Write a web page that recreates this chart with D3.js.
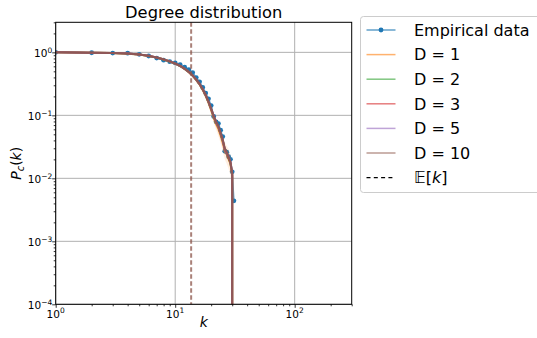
<!DOCTYPE html>
<html>
<head>
<meta charset="utf-8">
<script src="https://cdn.jsdelivr.net/npm/d3@7"></script>
<style>
  html, body { margin: 0; padding: 0; background: #ffffff; }
  svg { display: block; font-family: "DejaVu Sans", sans-serif; }
</style>
</head>
<body>
<svg id="chart" width="537" height="338"></svg>
<script>
// Degree values k
const kValues = [1, 2, 3, 4, 5, 6, 7, 8, 9, 10, 11, 12, 13, 14, 15, 16, 17, 18, 19, 20,
                 21, 22, 23, 24, 25, 26, 27, 28, 29, 30, 31];

// Empirical complementary cumulative degree distribution P_c(k)
const empirical = [1.0, 0.986, 0.975, 0.970, 0.932, 0.875, 0.81, 0.752, 0.71, 0.68,
                   0.64, 0.58, 0.53, 0.478, 0.397, 0.34, 0.277, 0.226, 0.183, 0.143,
                   0.096, 0.079, 0.074, 0.058, 0.046, 0.027, 0.026, 0.022, 0.020, 0.0127, 0.0044];

// Model predictions for each embedding dimension D (zero beyond the largest degree)
const modelD1  = [1.0, 0.99, 0.975, 0.954, 0.923, 0.877, 0.825, 0.770, 0.715, 0.660,
                  0.604, 0.544, 0.484, 0.423, 0.363, 0.308, 0.253, 0.203, 0.158, 0.120,
                  0.090, 0.072, 0.060, 0.047, 0.036, 0.027, 0.024, 0.020, 0.017, 0.011, 0];
const modelD2  = [1.0, 0.99, 0.975, 0.954, 0.924, 0.878, 0.826, 0.771, 0.716, 0.661,
                  0.605, 0.546, 0.486, 0.426, 0.366, 0.311, 0.256, 0.206, 0.161, 0.124,
                  0.094, 0.076, 0.064, 0.050, 0.039, 0.029, 0.025, 0.021, 0.017, 0.012, 0];
const modelD3  = [1.0, 0.99, 0.975, 0.955, 0.925, 0.879, 0.828, 0.773, 0.718, 0.663,
                  0.608, 0.548, 0.488, 0.428, 0.368, 0.313, 0.258, 0.208, 0.163, 0.126,
                  0.096, 0.077, 0.065, 0.051, 0.040, 0.029, 0.025, 0.021, 0.018, 0.012, 0];
const modelD5  = [1.0, 0.99, 0.975, 0.955, 0.925, 0.880, 0.829, 0.774, 0.719, 0.664,
                  0.609, 0.549, 0.489, 0.429, 0.369, 0.314, 0.259, 0.209, 0.164, 0.127,
                  0.097, 0.078, 0.066, 0.052, 0.040, 0.029, 0.025, 0.022, 0.018, 0.012, 0];
const modelD10 = [1.0, 0.99, 0.975, 0.955, 0.925, 0.880, 0.830, 0.775, 0.720, 0.665,
                  0.610, 0.550, 0.490, 0.430, 0.370, 0.315, 0.260, 0.210, 0.165, 0.128,
                  0.098, 0.080, 0.068, 0.053, 0.041, 0.030, 0.026, 0.022, 0.018, 0.012, 0];

// Spread of the D = 1 model over repeated runs
const bandD1Low  = [1.0, 0.99, 0.973, 0.950, 0.917, 0.869, 0.815, 0.758, 0.701, 0.644,
                    0.587, 0.526, 0.464, 0.402, 0.342, 0.286, 0.232, 0.183, 0.140, 0.104,
                    0.076, 0.059, 0.047, 0.036, 0.027, 0.020, 0.017, 0.014, 0.011, 0.008, 0];
const bandD1High = [1.0, 0.99, 0.976, 0.956, 0.926, 0.880, 0.828, 0.774, 0.720, 0.666,
                    0.612, 0.555, 0.496, 0.438, 0.380, 0.326, 0.272, 0.222, 0.176, 0.136,
                    0.104, 0.085, 0.071, 0.058, 0.047, 0.037, 0.033, 0.029, 0.024, 0.017, 0];

const seriesLabels = ["D = 1", "D = 2", "D = 3", "D = 5", "D = 10"];
const seriesColors = ["#ff7f0e", "#2ca02c", "#d62728", "#9467bd", "#8c564b"];
const seriesOpacity = [0.7, 0.7, 0.7, 0.7, 0.85];
const seriesValues = [modelD1, modelD2, modelD3, modelD5, modelD10];

// Mean degree E[k]
const meanDegree = 13.6;

// Axis ticks
const xMajorTicks = [1, 10, 100];
const yMajorTicks = [1e-4, 1e-3, 1e-2, 1e-1, 1];
const xExponents = ["0", "1", "2"];
const yExponents = ["\u22124", "\u22123", "\u22122", "\u22121", "0"];

const svg = d3.select("#chart");
const pL = 55.7, pR = 351.7, pT = 22.3, pB = 304.3;

const x = d3.scaleLog().domain([1, 300]).range([pL, pR]);
const y = d3.scaleLog().domain([1e-4, 3]).range([pB, pT]);

// Minor tick positions (2..9 times each decade) inside the domains
const minorX = [];
[1, 10, 100].forEach(b => { for (let m = 2; m <= 9; m++) { const v = b * m; if (v <= 300) minorX.push(v); } });
const minorY = [];
[1e-4, 1e-3, 1e-2, 1e-1, 1].forEach(b => { for (let m = 2; m <= 9; m++) { const v = b * m; if (v <= 3) minorY.push(v); } });

// Grid
const grid = svg.append("g");
xMajorTicks.forEach(t => {
  grid.append("line").attr("x1", x(t)).attr("x2", x(t)).attr("y1", pT).attr("y2", pB)
    .attr("stroke", "#b0b0b0").attr("stroke-width", 1);
});
yMajorTicks.forEach(t => {
  grid.append("line").attr("x1", pL).attr("x2", pR).attr("y1", y(t)).attr("y2", y(t))
    .attr("stroke", "#b0b0b0").attr("stroke-width", 1);
});

// Clip to plotting area
svg.append("defs").append("clipPath").attr("id", "plotClip")
  .append("rect").attr("x", pL).attr("y", pT).attr("width", pR - pL).attr("height", pB - pT);

const plot = svg.append("g").attr("clip-path", "url(#plotClip)");

const yClamped = v => v > 0 ? y(v) : y(1e-300);

// Empirical data
const empLine = d3.line().x((d, i) => x(kValues[i])).y(d => y(d));
plot.append("path").datum(empirical).attr("d", empLine)
  .attr("fill", "none").attr("stroke", "#1f77b4").attr("stroke-opacity", 0.7).attr("stroke-width", 1.5);
plot.selectAll("circle.emp").data(empirical).enter().append("circle")
  .attr("class", "emp")
  .attr("cx", (d, i) => x(kValues[i])).attr("cy", d => y(d)).attr("r", 2.4)
  .attr("fill", "#1f77b4");

// Spread band for D = 1
const band = d3.area()
  .x((d, i) => x(kValues[i]))
  .y0((d, i) => yClamped(bandD1Low[i]))
  .y1((d, i) => yClamped(bandD1High[i]));
plot.append("path").datum(bandD1Low.slice(0, 30)).attr("d", band)
  .attr("fill", "#ff7f0e").attr("fill-opacity", 0.12);

// Model curves
const modelLine = d3.line().x((d, i) => x(kValues[i])).y(d => yClamped(d));
seriesValues.forEach((vals, s) => {
  plot.append("path").datum(vals).attr("d", modelLine)
    .attr("fill", "none").attr("stroke", seriesColors[s]).attr("stroke-opacity", seriesOpacity[s])
    .attr("stroke-width", 2).attr("stroke-linejoin", "round");
});

// Mean degree marker
plot.append("line").attr("x1", x(meanDegree)).attr("x2", x(meanDegree)).attr("y1", pT).attr("y2", pB)
  .attr("stroke", "#8c564b").attr("stroke-opacity", 0.75).attr("stroke-width", 2)
  .attr("stroke-dasharray", "4.5,2.5");

// Axes
const xAxis = svg.append("g").attr("transform", `translate(0,${pB})`)
  .call(d3.axisBottom(x).tickValues(xMajorTicks).tickSize(3.5).tickFormat(""));
const xMinor = svg.append("g").attr("transform", `translate(0,${pB})`)
  .call(d3.axisBottom(x).tickValues(minorX).tickSize(2).tickFormat(""));
const yAxis = svg.append("g").attr("transform", `translate(${pL},0)`)
  .call(d3.axisLeft(y).tickValues(yMajorTicks).tickSize(3.5).tickFormat(""));
const yMinor = svg.append("g").attr("transform", `translate(${pL},0)`)
  .call(d3.axisLeft(y).tickValues(minorY).tickSize(2).tickFormat(""));
[xAxis, xMinor, yAxis, yMinor].forEach(g => {
  g.select(".domain").remove();
  g.selectAll(".tick line").attr("stroke", "#000").attr("stroke-width", 0.8);
});

// Tick labels with superscript exponents
xMajorTicks.forEach((t, i) => {
  const txt = svg.append("text").attr("x", x(t)).attr("y", pB + 13.5)
    .attr("text-anchor", "middle").attr("font-size", 10.5).attr("fill", "#000");
  txt.append("tspan").text("10");
  txt.append("tspan").attr("dy", -4.5).attr("font-size", 7.5).text(xExponents[i]);
});
yMajorTicks.forEach((t, i) => {
  const txt = svg.append("text").attr("x", pL - 3.5).attr("y", y(t) + 5)
    .attr("text-anchor", "end").attr("font-size", 10.5).attr("fill", "#000");
  txt.append("tspan").text("10");
  txt.append("tspan").attr("dy", -4.5).attr("font-size", 7.5).text(yExponents[i]);
});

// Frame
svg.append("rect").attr("x", pL).attr("y", pT).attr("width", pR - pL).attr("height", pB - pT)
  .attr("fill", "none").attr("stroke", "#000").attr("stroke-width", 1);

// Title and axis labels
svg.append("text").attr("x", (pL + pR) / 2).attr("y", 18).attr("text-anchor", "middle")
  .attr("font-size", 16.3).attr("fill", "#000").text("Degree distribution");

svg.append("text").attr("x", (pL + pR) / 2).attr("y", 327).attr("text-anchor", "middle")
  .attr("font-size", 14).attr("font-style", "italic").attr("fill", "#000").text("k");

const yl = svg.append("text").attr("transform", `translate(20.5,${(pT + pB) / 2}) rotate(-90)`)
  .attr("text-anchor", "middle").attr("font-size", 14).attr("fill", "#000");
yl.append("tspan").attr("font-style", "italic").text("P");
yl.append("tspan").attr("font-style", "italic").attr("font-size", 10).attr("dy", 3).text("c");
yl.append("tspan").attr("dy", -3).text("(");
yl.append("tspan").attr("font-style", "italic").text("k");
yl.append("tspan").text(")");

// Legend
const legend = svg.append("g");
legend.append("rect").attr("x", 360.5).attr("y", 16.5).attr("width", 200).attr("height", 176)
  .attr("rx", 3).attr("fill", "#ffffff").attr("fill-opacity", 0.8).attr("stroke", "#cccccc");

const rowY = i => 30 + i * 24.6;
const hx1 = 366.5, hx2 = 395.5, tx = 414;

legend.append("line").attr("x1", hx1).attr("x2", hx2).attr("y1", rowY(0)).attr("y2", rowY(0))
  .attr("stroke", "#1f77b4").attr("stroke-opacity", 0.7).attr("stroke-width", 1.5);
legend.append("circle").attr("cx", (hx1 + hx2) / 2).attr("cy", rowY(0)).attr("r", 2.4).attr("fill", "#1f77b4");
legend.append("text").attr("x", tx).attr("y", rowY(0) + 5.8).attr("font-size", 16).attr("fill", "#000")
  .text("Empirical data");

seriesLabels.forEach((lab, s) => {
  const yy = rowY(s + 1);
  legend.append("line").attr("x1", hx1).attr("x2", hx2).attr("y1", yy).attr("y2", yy)
    .attr("stroke", seriesColors[s]).attr("stroke-opacity", 0.6).attr("stroke-width", 1.5);
  legend.append("text").attr("x", tx).attr("y", yy + 5.8).attr("font-size", 16).attr("fill", "#000").text(lab);
});

const ey = rowY(6);
legend.append("line").attr("x1", hx1).attr("x2", hx2).attr("y1", ey).attr("y2", ey)
  .attr("stroke", "#000").attr("stroke-width", 1.3).attr("stroke-dasharray", "4,3.3");
const et = legend.append("text").attr("x", tx).attr("y", ey + 5.8).attr("font-size", 16).attr("fill", "#000");
et.append("tspan").text("\u{1D53C}");
et.append("tspan").text("[");
et.append("tspan").attr("font-style", "italic").text("k");
et.append("tspan").text("]");
</script>
</body>
</html>
